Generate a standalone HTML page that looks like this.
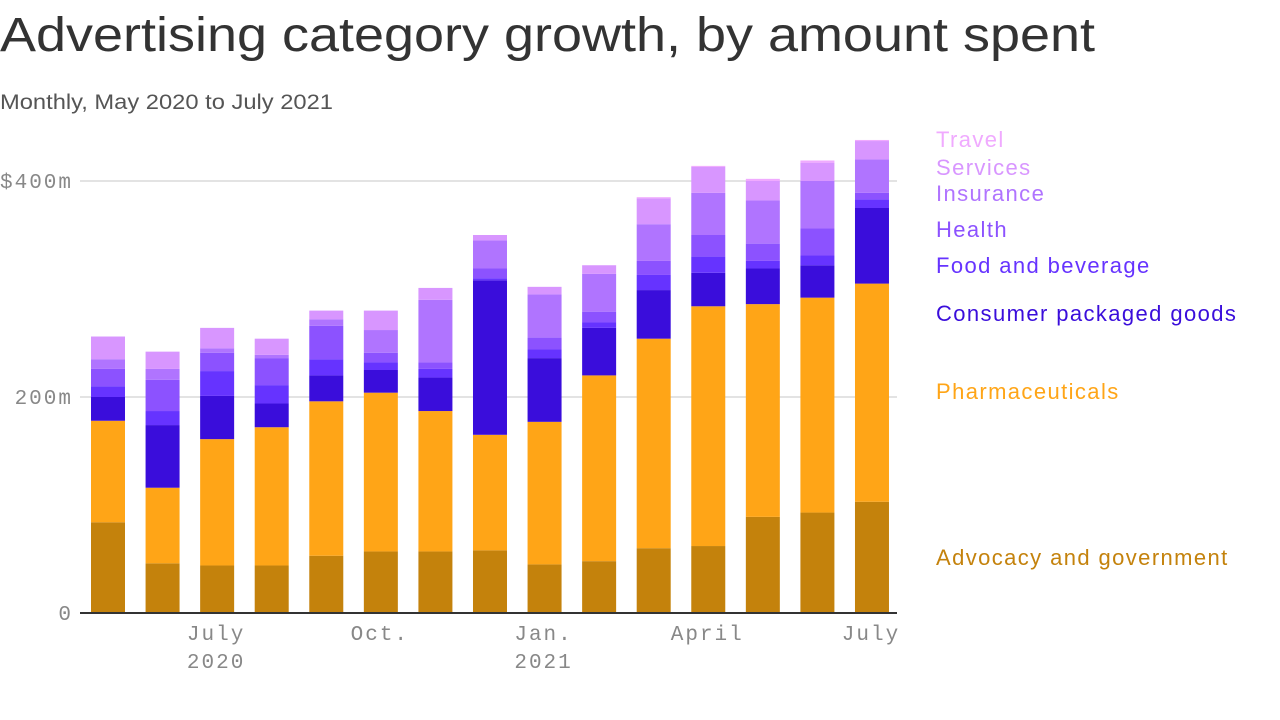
<!DOCTYPE html>
<html><head><meta charset="utf-8"><style>
body{margin:0;width:1280px;height:720px;background:#fff;overflow:hidden;font-family:"Liberation Sans",sans-serif}
svg{position:absolute;left:0;top:0}
</style></head><body>
<svg width="1280" height="720">
<text x="0" y="51" font-size="48" fill="#333" font-family="Liberation Sans" textLength="1095" lengthAdjust="spacingAndGlyphs">Advertising category growth, by amount spent</text>
<text x="0" y="109" font-size="21" fill="#555" font-family="Liberation Sans" textLength="333" lengthAdjust="spacingAndGlyphs">Monthly, May 2020 to July 2021</text>
<g id="grid"></g><g id="bars"></g><g id="legend"></g><g id="xlab"></g>
</svg>
<script>
const months=["May 2020","Jun 2020","Jul 2020","Aug 2020","Sep 2020","Oct 2020","Nov 2020","Dec 2020","Jan 2021","Feb 2021","Mar 2021","Apr 2021","May 2021","Jun 2021","Jul 2021"];
const advocacy=[84,46,44,44,53,57,57,58,45,48,60,62,89,93,103];
const pharma=[94,70,117,128,143,147,130,107,132,172,194,222,197,199,202];
const cpg=[22,58,40,22,24,21,31,143,59,44,45,31,33,30,70];
const food=[10,13,23,17,15,7,8,2,8,5,14,15,7,9,8];
const health=[16,29,17,25,31,9,6,9,11,10,13,20,16,25,6];
const insurance=[9,10,4,3,6,21,58,26,40,35,34,39,40,44,31];
const services=[21,16,19,15,8,18,11,5,7,8,24,24,18,17,17];
const travel=[0,0,0,0,0,0,0,0,0,0,1,1,2,2,1];
const seriesNames=["Advocacy and government","Pharmaceuticals","Consumer packaged goods","Food and beverage","Health","Insurance","Services","Travel"];
const seriesVals=[advocacy,pharma,cpg,food,health,insurance,services,travel];
const colors=["#C4820C","#FFA517","#3A0DDB","#6633FF","#8C52FF","#B074FF","#D896FF","#F0AAFF"];
const yTicks=[0,200,400];
const yTickLabels=["0","200m","$400m"];
const xTickIdx=[2,5,8,11,14];
const xTickLabels=[["July","2020"],["Oct.",""],["Jan.","2021"],["April",""],["July",""]];
const legendY=[558,392,314,266,230,194,168,140];

const NS="http://www.w3.org/2000/svg";
const y=v=>613-v*1.08;
const xc=i=>108+i*54.57;
function mk(t,a,p){const e=document.createElementNS(NS,t);for(const k in a)e.setAttribute(k,a[k]);p.appendChild(e);return e;}
const grid=document.getElementById('grid');
yTicks.forEach((t,i)=>{
 if(t>0){const l=mk('line',{x1:80,x2:897,y1:y(t),y2:y(t),stroke:'#e3e3e3','stroke-width':2},grid);
 
 }
 const tx=mk('text',{x:73,y:y(t)+7,'text-anchor':'end','font-size':21,'letter-spacing':2,fill:'#888','font-family':'Liberation Mono'},grid);
 tx.textContent=yTickLabels[i];
 
 
});
const bars=document.getElementById('bars');
months.forEach((m,i)=>{
 let c=0;
 seriesVals.forEach((s,k)=>{
  const v=s[i]; if(v<=0)return;
  const r=mk('rect',{x:xc(i)-17,width:34,y:y(c+v),height:v*1.08,fill:colors[k]},bars);
  
  
  c+=v;
 });
});
const base=mk('line',{x1:80,x2:897,y1:613,y2:613,stroke:'#333','stroke-width':2},bars);


const xl=document.getElementById('xlab');
xTickIdx.forEach((idx,j)=>{
 xTickLabels[j].forEach((s,r)=>{
  if(!s)return;
  const t=mk('text',{x:xc(idx)-1,y:640+r*28,'text-anchor':'middle','font-size':21,'letter-spacing':2,fill:'#888','font-family':'Liberation Mono'},xl);
  t.textContent=s;
  
  
 });
});
const lg=document.getElementById('legend');
seriesNames.forEach((n,k)=>{
 const t=mk('text',{x:936,y:legendY[k]+7,'font-size':22,'letter-spacing':1.4,fill:colors[k],'font-family':'Liberation Sans'},lg);
 t.textContent=n;
 
 
});
</script>
</body></html>
